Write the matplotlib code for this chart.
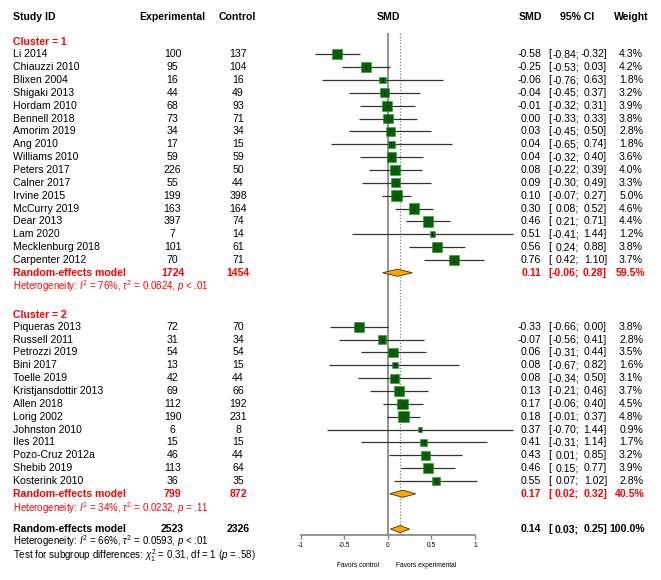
import numpy as np
import matplotlib
matplotlib.use("Agg")
import matplotlib.pyplot as plt
from matplotlib import transforms

plt.rcParams["font.family"] = ["Liberation Sans", "DejaVu Sans"]
plt.rcParams["mathtext.fontset"] = "custom"
plt.rcParams["mathtext.rm"] = "Liberation Sans"
plt.rcParams["mathtext.it"] = "Liberation Sans:italic"
plt.rcParams["mathtext.bf"] = "Liberation Sans:bold"

# -----------------------------
# Datos
# -----------------------------
studies_1 = ["Li 2014", "Chiauzzi 2010", "Blixen 2004", "Shigaki 2013", "Hordam 2010",
             "Bennell 2018", "Amorim 2019", "Ang 2010", "Williams 2010", "Peters 2017",
             "Calner 2017", "Irvine 2015", "McCurry 2019", "Dear 2013", "Lam 2020",
             "Mecklenburg 2018", "Carpenter 2012"]
n_exp_1 = [100, 95, 16, 44, 68, 73, 34, 17, 59, 226, 55, 199, 163, 397, 7, 101, 70]
n_ctl_1 = [137, 104, 16, 49, 93, 71, 34, 15, 59, 50, 44, 398, 164, 74, 14, 61, 71]
smd_1 = [-0.58, -0.25, -0.06, -0.04, -0.01, 0.00, 0.03, 0.04, 0.04, 0.08, 0.09, 0.10,
         0.30, 0.46, 0.51, 0.56, 0.76]
lo_1 = [-0.84, -0.53, -0.76, -0.45, -0.32, -0.33, -0.45, -0.65, -0.32, -0.22, -0.30,
        -0.07, 0.08, 0.21, -0.41, 0.24, 0.42]
hi_1 = [-0.32, 0.03, 0.63, 0.37, 0.31, 0.33, 0.50, 0.74, 0.40, 0.39, 0.49, 0.27,
        0.52, 0.71, 1.44, 0.88, 1.10]
w_1 = [4.3, 4.2, 1.8, 3.2, 3.9, 3.8, 2.8, 1.8, 3.6, 4.0, 3.3, 5.0, 4.6, 4.4, 1.2, 3.8, 3.7]

studies_2 = ["Piqueras 2013", "Russell 2011", "Petrozzi 2019", "Bini 2017", "Toelle 2019",
             "Kristjansdottir 2013", "Allen 2018", "Lorig 2002", "Johnston 2010",
             "Iles 2011", "Pozo-Cruz 2012a", "Shebib 2019", "Kosterink 2010"]
n_exp_2 = [72, 31, 54, 13, 42, 69, 112, 190, 6, 15, 46, 113, 36]
n_ctl_2 = [70, 34, 54, 15, 44, 66, 192, 231, 8, 15, 44, 64, 35]
smd_2 = [-0.33, -0.07, 0.06, 0.08, 0.08, 0.13, 0.17, 0.18, 0.37, 0.41, 0.43, 0.46, 0.55]
lo_2 = [-0.66, -0.56, -0.31, -0.67, -0.34, -0.21, -0.06, -0.01, -0.70, -0.31, 0.01,
        0.15, 0.07]
hi_2 = [0.00, 0.41, 0.44, 0.82, 0.50, 0.46, 0.40, 0.37, 1.44, 1.14, 0.85, 0.77, 1.02]
w_2 = [3.8, 2.8, 3.5, 1.6, 3.1, 3.7, 4.5, 4.8, 0.9, 1.7, 3.2, 3.9, 2.8]

# modelos de efectos aleatorios: [n_exp, n_ctl, smd, lo, hi, peso]
re_1 = [1724, 1454, 0.11, -0.06, 0.28, 59.5]
re_2 = [799, 872, 0.17, 0.02, 0.32, 40.5]
re_all = [2523, 2326, 0.14, 0.03, 0.25, 100.0]

het_1 = r"Heterogeneity: $I^2$ = 76%, $\tau^2$ = 0.0824, $p$ < .01"
het_2 = r"Heterogeneity: $I^2$ = 34%, $\tau^2$ = 0.0232, $p$ = .11"
het_all = r"Heterogeneity: $I^2$ = 66%, $\tau^2$ = 0.0593, $p$ < .01"
test_sub = r"Test for subgroup differences: $\chi^2_1$ = 0.31, df = 1 ($p$ = .58)"

ticks = [-1, -0.5, 0, 0.5, 1]
tick_labels = ["-1", "-0.5", "0", "0.5", "1"]

# -----------------------------
# Disposición (filas)
# -----------------------------
rows_1 = np.arange(len(studies_1))
row_re1, row_het1 = 17, 18
row_cl2 = 20.3
rows_2 = 21.2 + np.arange(len(studies_2))
row_re2, row_het2 = 34.2, 35.3
row_all, row_het_all, row_test = 36.95, 37.9, 39.05
row_axis = 37.4
row_header, row_cl1 = -2.9, -0.95
row_vtop = -1.66

W, H = 661, 580
fig = plt.figure(figsize=(W / 100, H / 100), dpi=100)
ax = fig.add_axes([0, 0, 1, 1])
px_m1, px_unit = 300.7, 87.15
ax.set_xlim(-1 - px_m1 / px_unit, -1 + (W - px_m1) / px_unit)
ax.set_ylim((H - 54.3) / 12.85, -54.3 / 12.85)

tr = transforms.blended_transform_factory(fig.transFigure, ax.transData)
FS = 7.6
FS_HET = 7.0
RED = "#FF0000"


def txt(px, row, s, ha="left", color="black", bold=False, size=FS):
    ax.text(px / W, row, s, transform=tr, ha=ha, va="center", color=color,
            fontsize=size, fontweight="bold" if bold else "normal")


def stats_cols(row, n1, n2, est, lo, hi, w, color="black", bold=False):
    txt(172.5, row, f"{n1}", ha="center", color=color, bold=bold)
    txt(238, row, f"{n2}", ha="center", color=color, bold=bold)
    txt(541, row, f"{est:.2f}", ha="right", color=color, bold=bold)
    txt(548, row, "[", color=color, bold=bold)
    txt(579, row, f"{lo:.2f};", ha="right", color=color, bold=bold)
    txt(607, row, f"{hi:.2f}]", ha="right", color=color, bold=bold)
    txt(645 if bold else 643, row, f"{w:.1f}%", ha="right", color=color, bold=bold)


# cabecera
txt(13, row_header, "Study ID", bold=True)
txt(172.5, row_header, "Experimental", ha="center", bold=True)
txt(237, row_header, "Control", ha="center", bold=True)
txt(388, row_header, "SMD", ha="center", bold=True)
txt(542, row_header, "SMD", ha="right", bold=True)
txt(577.5, row_header, "95% CI", ha="center", bold=True)
txt(649, row_header, "Weight", ha="right", bold=True)

# líneas verticales
ax.vlines(0, row_vtop, row_axis, color="#808080", lw=1.2, zorder=1)
ax.vlines(re_all[2], row_vtop, row_axis, color="#808080", lw=0.9,
          linestyles=(0, (1, 1.5)), zorder=1)

# estudios
for names, rows, ne, nc, est, lo, hi, w in [
        (studies_1, rows_1, n_exp_1, n_ctl_1, smd_1, lo_1, hi_1, w_1),
        (studies_2, rows_2, n_exp_2, n_ctl_2, smd_2, lo_2, hi_2, w_2)]:
    ax.hlines(rows, lo, hi, color="#333333", lw=0.9, zorder=2)
    side_pt = 5.0 * np.sqrt(np.array(w)) * 0.72
    ax.scatter(est, rows, s=side_pt ** 2, marker="s", color="#006400",
               edgecolors="#3a8a3a", linewidths=0.4, zorder=3)
    ax.scatter(est, rows, s=9, marker="|", color="black", linewidths=0.6, zorder=4)
    for name, r, a, b, e, l, h, ww in zip(names, rows, ne, nc, est, lo, hi, w):
        txt(13, r, name)
        stats_cols(r, a, b, e, l, h, ww)

# diamantes
dh = 0.28
for row, re_ in [(row_re1, re_1), (row_re2, re_2), (row_all, re_all)]:
    est, lo, hi = re_[2], re_[3], re_[4]
    ax.fill([lo, est, hi, est], [row, row - dh, row, row + dh], facecolor="#FFA500",
            edgecolor="#4a3000", lw=0.6, zorder=5)

# grupos
txt(13, row_cl1, "Cluster = 1", color=RED, bold=True)
txt(13, row_re1, "Random-effects model", color=RED, bold=True)
stats_cols(row_re1, *re_1, color=RED, bold=True)
txt(13, row_het1, het_1, color=RED, size=FS_HET)

txt(13, row_cl2, "Cluster = 2", color=RED, bold=True)
txt(13, row_re2, "Random-effects model", color=RED, bold=True)
stats_cols(row_re2, *re_2, color=RED, bold=True)
txt(13, row_het2, het_2, color=RED, size=FS_HET)

txt(13, row_all, "Random-effects model", bold=True)
stats_cols(row_all, *re_all, bold=True)
txt(13, row_het_all, het_all, size=FS_HET)
txt(13, row_test, test_sub, size=FS_HET)

# eje x
for side in ["top", "left", "right"]:
    ax.spines[side].set_visible(False)
ax.spines["bottom"].set_position(("data", row_axis))
ax.spines["bottom"].set_bounds(-1, 1)
ax.spines["bottom"].set_color("#808080")
ax.spines["bottom"].set_linewidth(1.2)
ax.set_yticks([])
ax.set_xticks(ticks)
ax.set_xticklabels(tick_labels)
ax.tick_params(axis="x", direction="out", length=3, width=1.0, color="#808080",
               labelsize=4.8, pad=2)

ax.text(-0.1, row_axis + 2.4, "Favors control", ha="right", va="center", fontsize=4.8)
ax.text(0.09, row_axis + 2.4, "Favors experimental", ha="left", va="center", fontsize=4.8)

fig.savefig("out.png", dpi=100)
plt.close(fig)
